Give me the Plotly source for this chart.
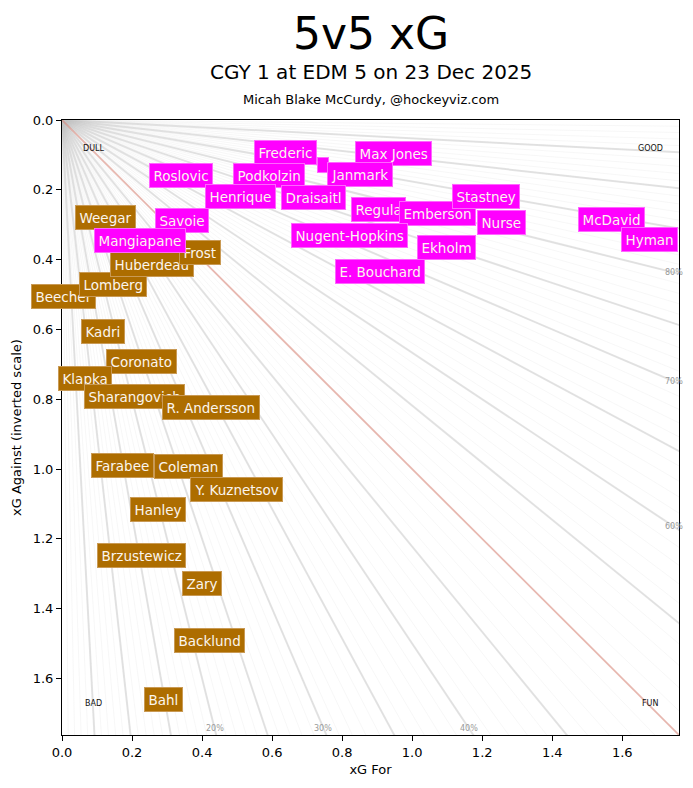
import plotly.graph_objects as go

# ---- data ----
cgy_players = ["Weegar", "Beecher", "Lomberg", "Huberdeau", "Frost", "Kadri", "Coronato",
               "Klapka", "Sharangovich", "R. Andersson", "Farabee", "Coleman",
               "Y. Kuznetsov", "Hanley", "Brzustewicz", "Zary", "Backlund", "Bahl"]
cgy_xgf = [0.123, 0.003, 0.146, 0.257, 0.394, 0.117, 0.226,
           0.066, 0.206, 0.426, 0.174, 0.360,
           0.497, 0.274, 0.226, 0.400, 0.420, 0.291]
cgy_xga = [0.278, 0.507, 0.470, 0.413, 0.381, 0.605, 0.691,
           0.742, 0.791, 0.825, 0.991, 0.994,
           1.060, 1.115, 1.249, 1.327, 1.490, 1.659]

edm_players = ["", "Frederic", "Max Jones", "Janmark", "Roslovic", "Podkolzin", "Henrique",
               "Draisaitl", "Regula", "Emberson", "Stastney", "Nurse", "Savoie",
               "Mangiapane", "Nugent-Hopkins", "Ekholm", "E. Bouchard", "McDavid", "Hyman"]
edm_xgf = [0.746, 0.637, 0.946, 0.851, 0.340, 0.591, 0.509,
           0.717, 0.903, 1.071, 1.211, 1.254, 0.343,
           0.223, 0.820, 1.097, 0.909, 1.569, 1.677]
edm_xga = [0.130, 0.092, 0.097, 0.155, 0.160, 0.160, 0.218,
           0.221, 0.255, 0.269, 0.218, 0.295, 0.287,
           0.344, 0.330, 0.364, 0.433, 0.284, 0.341]

thin_pcts = list(range(1, 100))
thick_pcts = [5, 10, 15, 20, 25, 30, 35, 40, 45, 55, 60, 65, 70, 75, 80, 85, 90, 95]
bottom_pct_labels = [20, 30, 40]
right_pct_labels = [60, 70, 80]

AX_MAX = 1.762
CGY_COLOR = "#ad6d00"
EDM_COLOR = "#ff00ff"
FONT = "DejaVu Sans"

fig = go.Figure()


def ray_xy(pcts):
    xs, ys = [], []
    for p in pcts:
        f = p / 100.0
        xs += [0, 10 * f, None]
        ys += [0, 10 * (1 - f), None]
    return xs, ys


tx, ty = ray_xy(thin_pcts)
fig.add_trace(go.Scatter(x=tx, y=ty, mode="lines", line=dict(color="rgba(190,190,190,0.13)", width=1),
                         hoverinfo="skip", showlegend=False))
kx, ky = ray_xy(thick_pcts)
fig.add_trace(go.Scatter(x=kx, y=ky, mode="lines", line=dict(color="rgba(195,195,195,0.45)", width=2),
                         hoverinfo="skip", showlegend=False))
hx, hy = ray_xy([50])
fig.add_trace(go.Scatter(x=hx, y=hy, mode="lines", line=dict(color="rgba(215,130,115,0.55)", width=1.8),
                         hoverinfo="skip", showlegend=False))

annotations = []

# percent labels
yb = 1.742
for p in bottom_pct_labels:
    f = p / 100.0
    annotations.append(dict(x=yb * f / (1 - f), y=yb, text=f"{p}%", showarrow=False,
                            font=dict(family=FONT, size=8, color="#999999"),
                            xanchor="center", yanchor="middle"))
xr = 1.748
for p in right_pct_labels:
    f = p / 100.0
    annotations.append(dict(x=xr, y=xr * (1 - f) / f, text=f"{p}%", showarrow=False,
                            font=dict(family=FONT, size=8, color="#999999"),
                            xanchor="center", yanchor="middle"))

# corner labels
for txt, cx, cy in [("DULL", 0.089, 0.083), ("GOOD", 1.68, 0.083), ("BAD", 0.089, 1.673), ("FUN", 1.68, 1.673)]:
    annotations.append(dict(x=cx, y=cy, text=txt, showarrow=False,
                            font=dict(family=FONT, size=8, color="#111111"),
                            xanchor="center", yanchor="middle"))


def add_labels(names, xs, ys, color, border):
    for n, x, y in zip(names, xs, ys):
        if n == "":
            annotations.append(dict(x=x, y=y, text="\u00a0\u00a0", showarrow=False,
                                    font=dict(family=FONT, size=9, color="white"),
                                    bgcolor=color, bordercolor=border, borderwidth=1, borderpad=2))
            continue
        annotations.append(dict(x=x, y=y, text=n, showarrow=False,
                                font=dict(family=FONT, size=13.5, color="#fbf5ee"),
                                bgcolor=color, bordercolor=border, borderwidth=1, borderpad=3.5,
                                xanchor="center", yanchor="middle"))


add_labels(cgy_players, cgy_xgf, cgy_xga, CGY_COLOR, "#c99a55")
add_labels(edm_players, edm_xgf, edm_xga, EDM_COLOR, "#ff66ff")

# titles
annotations += [
    dict(xref="paper", yref="paper", x=0.5, y=1, yshift=87, text="5v5 xG", showarrow=False,
         font=dict(family=FONT, size=44, color="black"), xanchor="center", yanchor="middle"),
    dict(xref="paper", yref="paper", x=0.5, y=1, yshift=48, text="CGY 1 at EDM 5 on 23 Dec 2025",
         showarrow=False, font=dict(family=FONT, size=20, color="black"), xanchor="center", yanchor="middle"),
    dict(xref="paper", yref="paper", x=0.5, y=1, yshift=21, text="Micah Blake McCurdy, @hockeyviz.com",
         showarrow=False, font=dict(family=FONT, size=13, color="black"), xanchor="center", yanchor="middle"),
]

axis_common = dict(range=[0, AX_MAX], showgrid=False, zeroline=False, showline=True, linecolor="black",
                   linewidth=1, mirror=True, ticks="outside", ticklen=5, tickcolor="black",
                   automargin=False,
                   tickvals=[0, 0.2, 0.4, 0.6, 0.8, 1.0, 1.2, 1.4, 1.6],
                   ticktext=["0.0", "0.2", "0.4", "0.6", "0.8", "1.0", "1.2", "1.4", "1.6"],
                   tickfont=dict(family=FONT, size=13, color="black"))

fig.update_layout(
    width=693, height=788,
    margin=dict(l=62, r=14, t=120, b=53),
    paper_bgcolor="white", plot_bgcolor="white",
    showlegend=False,
    xaxis=dict(**axis_common, title=dict(text="xG For", font=dict(family=FONT, size=13, color="black"),
                                          standoff=6)),
    yaxis=dict(**axis_common, autorange=False, title=dict(text="xG Against (inverted scale)",
                                                          font=dict(family=FONT, size=13, color="black"),
                                                          standoff=8)),
    annotations=annotations,
)
fig.update_yaxes(range=[AX_MAX, 0])

fig.write_html("out.html", config={"displayModeBar": False},
               post_script="document.body.style.margin='0';document.body.style.overflow='hidden';")
